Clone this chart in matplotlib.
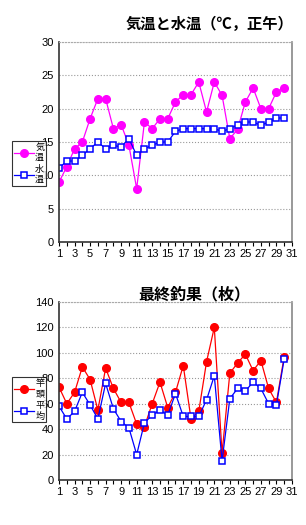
import matplotlib
matplotlib.use("Agg")
import matplotlib.pyplot as plt
import numpy as np

plt.rcParams['font.family'] = ['Liberation Sans', 'Noto Sans CJK JP', 'DejaVu Sans']

# days of the month
days = list(range(1, 31))

# air / water temperature at noon
air_temp = [9.0, 11.3, 14.0, 15.0, 18.5, 21.5, 21.5, 17.0, 17.6, 14.5,
            8.0, 18.0, 17.0, 18.5, 18.5, 21.0, 22.1, 22.1, 24.0, 19.5,
            24.0, 22.0, 15.5, 16.9, 21.0, 23.1, 20.0, 20.0, 22.5, 23.1]
water_temp = [11.1, 12.15, 12.15, 13.0, 14.0, 15.0, 14.0, 14.5, 14.25, 15.5,
              13.0, 14.0, 14.5, 15.0, 15.0, 16.6, 17.0, 17.0, 17.0, 17.0,
              17.0, 16.6, 17.0, 17.6, 18.0, 18.0, 17.5, 18.0, 18.6, 18.6]

# final catch (count)
catch_top = [73, 60, 69, 89, 79, 55, 88, 72, 61, 61,
             44, 42, 60, 77, 57, 69, 90, 48, 54, 93,
             120, 21, 84, 92, 99, 86, 94, 72, 61, 97]
catch_avg = [58, 48, 54, 69, 59, 48, 76, 56, 46, 41,
             20, 45, 51, 55, 51, 68, 50, 50, 50, 63,
             82, 15, 64, 72, 70, 77, 72, 60, 59, 95]

temp_labels = ["気\n温", "水\n温"]
catch_labels = ["竿\n頭", "平\n均"]

fig = plt.figure(figsize=(3.06, 5.25), dpi=100)


def style_axes(ax, ymax, ystep):
    ax.set_xlim(1, 31)
    ax.set_ylim(0, ymax)
    ax.set_xticks(range(1, 32))
    ax.set_xticklabels([str(d) if d % 2 == 1 else "" for d in range(1, 32)])
    ax.set_yticks(np.arange(0, ymax + 1, ystep))
    ax.tick_params(axis='x', length=3, width=0.8, labelsize=8, pad=2, direction='out')
    ax.tick_params(axis='y', length=0, labelsize=8, pad=4)
    ax.grid(axis='y', color='#999999', linestyle=':', linewidth=0.8)
    ax.set_axisbelow(True)
    for s in ['left', 'bottom']:
        ax.spines[s].set_color('#333333')
        ax.spines[s].set_linewidth(1.2)
    ax.spines['top'].set_color('#aaaaaa')
    ax.spines['top'].set_linestyle(':')
    ax.spines['right'].set_color('#888888')
    ax.spines['right'].set_linewidth(1.2)


def add_legend(ax, top):
    leg = ax.legend(loc='upper left', bbox_to_anchor=(0.025, top), bbox_transform=fig.transFigure,
                    frameon=True, fancybox=False, handlelength=2.2,
                    handletextpad=0.15, labelspacing=0.3, borderpad=0.2,
                    prop={'family': ['Noto Sans CJK JP'], 'size': 6.5})
    leg.get_frame().set_edgecolor('black')
    leg.get_frame().set_linewidth(0.8)
    return leg


# top chart: temperatures
ax1 = fig.add_axes([0.193, 0.539, 0.761, 0.381])
ax1.plot(days, air_temp, color='#FF00FF', lw=0.9, marker='o', ms=5.5,
         mfc='#FF00FF', mec='#FF00FF', label=temp_labels[0])
ax1.plot(days, water_temp, color='#0000FF', lw=0.9, marker='s', ms=5,
         mfc='white', mec='#0000FF', mew=1.1, label=temp_labels[1])
style_axes(ax1, 30, 5)
fig.text(0.685, 0.955, "気温と水温（℃，正午）", ha='center', va='center',
         fontsize=11, fontweight='bold', family=['Noto Sans CJK JP'])
add_legend(ax1, 0.74)

# bottom chart: catch
ax2 = fig.add_axes([0.193, 0.0857, 0.761, 0.339])
ax2.plot(days, catch_top, color='#FF0000', lw=0.9, marker='o', ms=5.5,
         mfc='#FF0000', mec='#FF0000', label=catch_labels[0])
ax2.plot(days, catch_avg, color='#0000FF', lw=0.9, marker='s', ms=5,
         mfc='white', mec='#0000FF', mew=1.1, label=catch_labels[1])
style_axes(ax2, 140, 20)
fig.text(0.635, 0.44, "最終釣果（枚）", ha='center', va='center',
         fontsize=11.5, fontweight='bold', family=['Noto Sans CJK JP'])
add_legend(ax2, 0.29)

fig.savefig("out.png", dpi=100)
